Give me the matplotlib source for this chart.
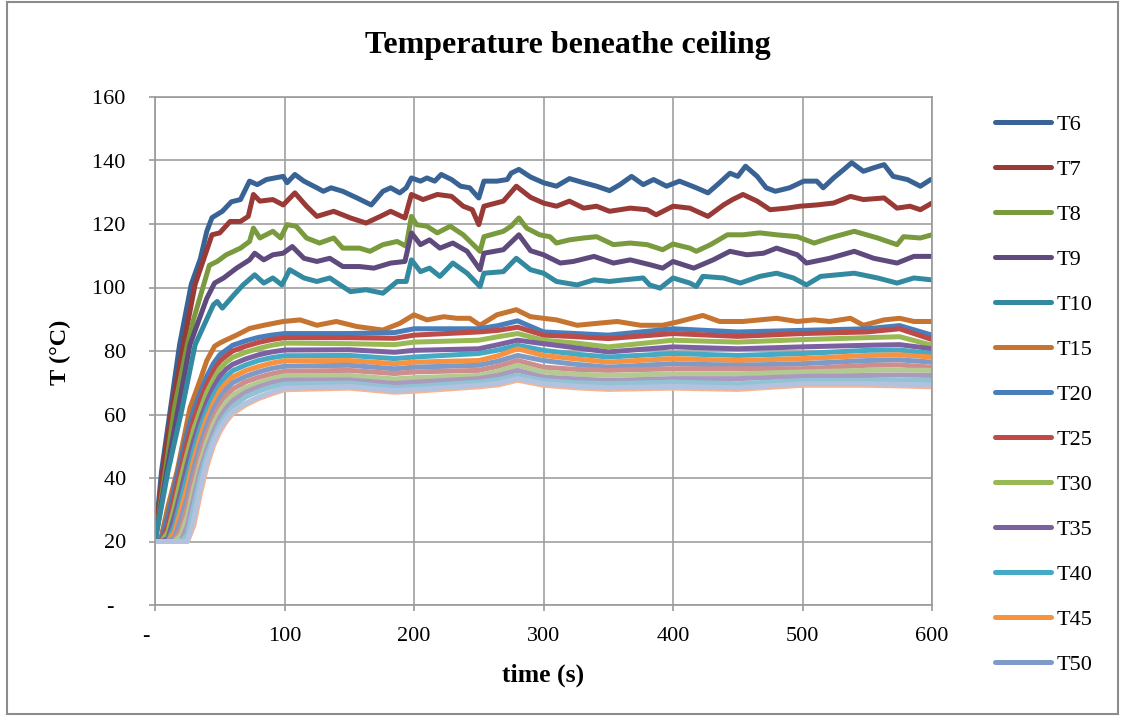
import matplotlib
matplotlib.use("Agg")
import matplotlib.pyplot as plt
import matplotlib.patches as patches
from matplotlib.ticker import FixedLocator, FuncFormatter

plt.rcParams['font.family'] = ['Liberation Serif', 'DejaVu Serif']

# ---------------- data ----------------
t_T6 = [0, 5, 12, 19, 28, 35, 40, 44, 48, 52, 59, 66, 73, 79, 86, 99, 102, 108, 115, 125, 130, 136, 145, 156,
        167, 176, 182, 189, 194, 198, 205, 210, 216, 221, 229, 236, 243, 250, 254, 264, 272, 275, 281, 290, 300,
        310, 320, 331, 341, 351, 359, 368, 377, 385, 395, 405, 418, 427, 436, 444, 450, 456, 465, 472, 479, 490,
        501, 511, 516, 524, 532, 538, 547, 555, 563, 570, 581, 591, 599]
T6 = [20, 42, 62, 82, 101, 109, 117.7, 122, 123, 124, 127, 127.7, 133.5, 132.4, 134, 135, 133, 135.6, 133.5,
      131.4, 130.3, 131.4, 130.3, 128.2, 126, 130.3, 131.4, 129.8, 131.4, 134.5, 133.5, 134.5, 133.5, 135.6, 134,
      131.9, 131.4, 128.2, 133.5, 133.5, 134, 136, 137.2, 134.8, 133, 131.9, 134.3, 133, 131.9, 130.5, 132.4, 135,
      132.4, 134, 131.9, 133.5, 131.4, 129.8, 133, 136, 135, 138.2, 135, 131.4, 130.3, 131.4, 133.5, 133.5, 131.4,
      134.5, 137.2, 139.3, 136.6, 137.7, 138.7, 135, 134, 131.9, 134]

t_T7 = [0, 6, 13, 22, 31, 44, 50, 58, 66, 72, 76, 81, 91, 99, 108, 117, 125, 138, 151, 163, 174, 182, 193, 198,
        207, 218, 229, 238, 245, 250, 254, 269, 279, 290, 300, 310, 320, 331, 341, 351, 367, 380, 387, 400, 413,
        427, 439, 446, 454, 465, 475, 488, 498, 511, 524, 537, 547, 563, 573, 583, 591, 600]
T7 = [20, 42, 62, 82, 101, 116.6, 117.2, 120.8, 120.8, 122.4, 129.3, 127.2, 127.7, 126, 129.8, 125.6, 122.4,
      124, 121.9, 120.3, 122.4, 124, 121.9, 129.3, 127.7, 129.3, 128.7, 125.6, 124.5, 119.8, 125.6, 127.2, 131.9,
      128.4, 126.6, 125.6, 127.2, 125, 125.6, 124, 125, 124.5, 122.9, 125.6, 125, 122.4, 126, 127.7, 129.3, 127.2,
      124.5, 125, 125.6, 126, 126.6, 128.7, 127.7, 128.2, 125, 125.6, 124.5, 126.6]

t_T8 = [0, 8, 15, 25, 30, 42, 48, 55, 66, 73, 76, 81, 91, 97, 102, 109, 117, 127, 138, 145, 158, 166, 176, 187,
        194, 198, 202, 210, 218, 228, 238, 251, 254, 269, 275, 281, 287, 297, 305, 310, 320, 331, 341, 354, 367,
        380, 392, 400, 413, 418, 429, 442, 454, 467, 480, 496, 509, 521, 540, 558, 573, 578, 591, 600]
T8 = [20, 42, 62, 82, 90.3, 107, 108.2, 110.3, 112.4, 114.5, 118.7, 115.6, 117.7, 115.6, 119.8, 119.3, 115.6,
      114, 115.6, 112.4, 112.4, 111.4, 113.5, 114.5, 113, 122.4, 119.8, 119.3, 117.2, 119.3, 116.6, 111.4, 116,
      117.7, 119.3, 121.9, 118.7, 116.6, 116, 114, 115, 115.6, 116, 113.5, 114, 113.5, 111.9, 113.7, 112.4, 111.4,
      113.5, 116.6, 116.6, 117.2, 116.6, 116, 114, 115.6, 117.7, 115.6, 113.5, 116, 115.6, 116.6]

t_T9 = [0, 9, 18, 27, 40, 46, 53, 63, 73, 77, 84, 91, 99, 106, 115, 125, 135, 145, 158, 169, 182, 193, 198, 205,
        212, 220, 230, 241, 251, 254, 269, 281, 290, 300, 313, 323, 339, 354, 367, 382, 392, 400, 416, 431, 444,
        457, 470, 480, 496, 503, 521, 540, 555, 573, 586, 600]
T9 = [20, 42, 62, 82, 96.6, 101.4, 103, 106.1, 108.7, 110.8, 108.7, 110.3, 110.8, 112.9, 109.2, 108.2, 109.2,
      106.6, 106.6, 106.1, 107.7, 108.2, 117.2, 113.5, 115, 112.4, 114, 111.4, 105.6, 110.8, 111.9, 116.6, 111.6,
      110.3, 107.7, 108.2, 109.8, 107.7, 108.7, 107.2, 106.1, 108.2, 106.1, 108.7, 111.4, 110.3, 110.8, 112.4,
      110.3, 107.7, 109.2, 111.4, 109.2, 107.7, 109.8, 109.8]

t_T10 = [0, 10, 21, 31, 45, 48, 52, 61, 68, 77, 84, 91, 98, 104, 115, 125, 135, 143, 151, 163, 176, 187, 194,
         198, 205, 212, 220, 230, 241, 251, 254, 269, 279, 290, 300, 310, 326, 339, 351, 362, 377, 382, 390, 400,
         413, 418, 423, 439, 452, 467, 480, 493, 503, 514, 540, 558, 573, 586, 600]
T10 = [20, 42, 62, 82, 94.5, 95.6, 93.5, 97.7, 100.8, 104, 101.4, 103, 100.8, 105.6, 103, 101.9, 103, 100.8,
       98.7, 99.3, 98.2, 101.9, 101.9, 108.7, 105, 106.1, 103.5, 107.7, 104.5, 100.3, 104.5, 105, 109.2, 105.6,
       104.5, 101.9, 100.8, 102.4, 101.9, 102.4, 103, 100.8, 99.8, 103, 101.4, 100.3, 103.5, 103, 101.4, 103.5,
       104.5, 103, 100.8, 103.5, 104.5, 103, 101.4, 103, 102.4]

t_T15 = [0, 4, 10, 17, 27, 35, 40, 46, 50, 55, 63, 73, 84, 99, 112, 125, 140, 156, 176, 189, 200, 210, 223, 233,
         243, 251, 264, 279, 290, 300, 310, 326, 341, 357, 375, 392, 405, 423, 436, 454, 480, 496, 509, 521, 537,
         547, 563, 575, 586, 600]
T15 = [20, 20, 31, 42, 62, 71, 77, 81.5, 82.5, 83.5, 85, 87.1, 88.1, 89.3, 89.8, 88.1, 89.3, 87.7, 86.6, 88.7,
       91.4, 89.8, 90.8, 90.3, 90.3, 88.1, 91.4, 93, 90.8, 90.3, 89.8, 88.1, 88.7, 89.3, 88.1, 88.1, 89.3, 91.2,
       89.3, 89.3, 90.3, 89.3, 89.8, 89.3, 90.3, 88.1, 89.8, 90.3, 89.3, 89.3]

# common time grid for the lower band of sensors
t_low = [0, 5, 10, 15, 20, 25, 30, 35, 40, 45, 50, 55, 60, 70, 80, 90, 100,
         150, 185, 200, 250, 265, 280, 300, 325, 350, 400, 450, 500, 550, 575, 600]
T20 = [20, 21, 28, 37, 46, 54.5, 61.5, 67, 72, 76, 78.8, 80.3, 81.8, 83.2, 84.3, 85, 85.5,
       85.5, 85.8, 87, 87, 88, 89.5, 86, 85.5, 85, 87, 86, 86.5, 87, 88, 85]
T25 = [20, 20, 25, 34, 43, 51.5, 58.5, 64.5, 69.5, 73.5, 76.8, 78.5, 80, 81.5, 82.7, 83.6, 84.2,
       84.2, 84, 85, 86, 86.5, 87.5, 85, 84.5, 83.9, 85.5, 84.6, 85.5, 86, 87, 83.6]
T30 = [20, 20, 23, 31, 40, 48, 55.5, 61.5, 67, 71, 74.5, 76.5, 78, 79.6, 80.8, 81.8, 82.5,
       82.3, 82, 82.8, 83.4, 84.5, 85.5, 83.4, 82.5, 81.3, 83.4, 82.8, 83.6, 84.2, 84.5, 81.8]
T35 = [20, 20, 21, 28, 36, 44.5, 52, 58.5, 64, 68.5, 72, 74.3, 75.8, 77.5, 78.8, 79.7, 80.3,
       80.4, 79.6, 80.2, 80.7, 82, 83.4, 82.3, 81, 79.7, 81.3, 80.7, 81.3, 81.8, 82, 80.7]
T40 = [20, 20, 20, 25, 33, 41, 49, 56, 61.5, 66, 69.5, 72, 73.8, 75.6, 77, 77.9, 78.5,
       78.6, 77.6, 78.1, 79.2, 80.3, 81.8, 80.2, 79, 78.1, 79.2, 78.6, 79.2, 80.2, 80.3, 79.2]
T45 = [20, 20, 20, 23, 30, 37.5, 46, 53, 59, 63.5, 67.5, 70, 71.8, 73.8, 75.1, 76.2, 76.9,
       77, 76, 76.5, 77, 78.5, 80.7, 78.6, 77.5, 76.5, 77.6, 77, 77.6, 78.6, 78.8, 78.1]
T50 = [20, 20, 20, 21, 27, 34, 43, 50.5, 56.5, 61.5, 65.3, 68, 70, 72, 73.4, 74.5, 75.2,
       75.5, 74.4, 74.9, 75.5, 76.8, 78.6, 77, 75.8, 74.9, 76, 75.5, 76, 77, 77.2, 76.5]
T55 = [20, 20, 20, 20, 24, 31, 40, 47.5, 54, 59, 63, 66, 68, 70.3, 71.7, 72.8, 73.6,
       73.9, 72.9, 73.4, 73.9, 75.2, 77, 74.9, 74.2, 73.9, 74.4, 74.4, 74.4, 75.5, 75.6, 74.9]
T60 = [20, 20, 20, 20, 22, 28, 37, 45, 51.5, 57, 61, 64, 66, 68.5, 70, 71.3, 72.2,
       72.3, 71.2, 71.6, 72.3, 73.6, 75.5, 73.4, 72.7, 72.3, 72.8, 72.8, 73.4, 73.9, 74, 73.9]
T65 = [20, 20, 20, 20, 20, 25, 34, 42.5, 49, 54.5, 59, 62, 64.3, 67, 68.7, 70, 70.8,
       70.9, 69.8, 70.2, 71.3, 72.3, 73.9, 71.8, 71.2, 70.7, 71.3, 71.3, 72, 72.3, 72.4, 72.3]
T70 = [20, 20, 20, 20, 20, 22, 31, 40, 47, 52.5, 57, 60, 62.5, 65.5, 67.3, 68.7, 69.6,
       69.9, 68.5, 68.8, 70.2, 71, 72.3, 70.7, 70, 69.7, 70.2, 69.7, 70.7, 70.7, 70.8, 70.7]
T75 = [20, 20, 20, 20, 20, 20, 25, 35, 43.5, 50, 54.5, 57.8, 60.3, 63, 65, 66.5, 67.8,
       68.3, 67, 67.3, 68.7, 69.3, 70.8, 69.2, 68.4, 67.9, 68.3, 67.9, 69.2, 69.2, 69, 68.7]
T80 = [20, 20, 20, 20, 20, 20, 27, 37, 45, 51, 55.5, 58.5, 61, 63.5, 65.5, 67, 68.3,
       68.8, 67.5, 67.8, 69.2, 69.8, 71.3, 69.7, 68.9, 68.4, 68.8, 68.4, 69.7, 69.7, 69.5, 69.2]

top_series = [("T6", t_T6, T6), ("T7", t_T7, T7), ("T8", t_T8, T8), ("T9", t_T9, T9),
              ("T10", t_T10, T10), ("T15", t_T15, T15)]
low_names = ["T20", "T25", "T30", "T35", "T40", "T45", "T50", "T55", "T60", "T65", "T70", "T75", "T80"]
low_values = [T20, T25, T30, T35, T40, T45, T50, T55, T60, T65, T70, T75, T80]
legend_names = ["T6", "T7", "T8", "T9", "T10", "T15", "T20", "T25", "T30", "T35", "T40", "T45", "T50"]

colors = ['#3A6395', '#9A3A37', '#7A9A3E', '#5F4A7D', '#338AA0', '#C6742F', '#4A7EBB', '#BE4B48',
          '#98B954', '#7D60A0', '#46AAC5', '#F69240', '#7E9BC8', '#CE8E8D', '#B5CA92', '#A99BBD',
          '#92C3D5', '#F9B590', '#B3C2DE']

x_ticks = [0, 100, 200, 300, 400, 500, 600]
y_ticks = [0, 20, 40, 60, 80, 100, 120, 140, 160]

# ---------------- figure ----------------
fig = plt.figure(figsize=(11.23, 7.18), dpi=100)
ax = fig.add_axes([155 / 1123, 1 - 605 / 718, (932 - 155) / 1123, (605 - 97) / 718])

LW = 3.6
handles = {}
i = 0
for name, tt, vv in top_series:
    ln, = ax.plot(tt, vv, color=colors[i], lw=LW, solid_joinstyle='round', solid_capstyle='round', label=name)
    handles[name] = ln
    i += 1
for name, vv in zip(low_names, low_values):
    ln, = ax.plot(t_low, vv, color=colors[i], lw=LW, solid_joinstyle='round', solid_capstyle='round', label=name)
    handles[name] = ln
    i += 1

ax.set_xlim(0, 600)
ax.set_ylim(0, 160)
ax.xaxis.set_major_locator(FixedLocator(x_ticks))
ax.yaxis.set_major_locator(FixedLocator(y_ticks))
ax.xaxis.set_major_formatter(FuncFormatter(lambda v, p: '-   ' if v == 0 else f'{int(v)}'))
ax.yaxis.set_major_formatter(FuncFormatter(lambda v, p: '-   ' if v == 0 else f'{int(v)} '))
ax.grid(True, color='#A0A0A0', lw=1.2)
ax.set_axisbelow(True)
for s in ax.spines.values():
    s.set_color('#9A9A9A')
    s.set_linewidth(1.2)
ax.tick_params(axis='both', direction='out', length=4, width=1.2, color='#9A9A9A',
               labelsize=16, labelcolor='black')
ax.tick_params(axis='x', pad=12)
ax.tick_params(axis='y', pad=13)

fig.text(568 / 1123, 1 - 46 / 718, 'Temperature beneathe ceiling', ha='center', va='center',
         fontsize=23, fontweight='bold')
fig.text(543 / 1123, 1 - 675 / 718, 'time (s)', ha='center', va='center', fontsize=18.5, fontweight='bold')
fig.text(60 / 1123, 1 - 352 / 718, 'T (°C)', ha='center', va='center', fontsize=17.5, fontweight='bold',
         rotation=90)

fig.legend([handles[n] for n in legend_names], legend_names, loc='upper left',
           bbox_to_anchor=(995 / 1123, 1 - 114 / 718), frameon=False, fontsize=16,
           labelspacing=1.1, handlelength=2.5, handletextpad=0.25, borderaxespad=0, borderpad=0)

fig.add_artist(patches.Rectangle((7 / 1123, 4 / 718), 1111 / 1123, 712 / 718, transform=fig.transFigure,
                                 fill=False, ec='#8C8C8C', lw=1.5))

fig.savefig('out.png', dpi=100)
